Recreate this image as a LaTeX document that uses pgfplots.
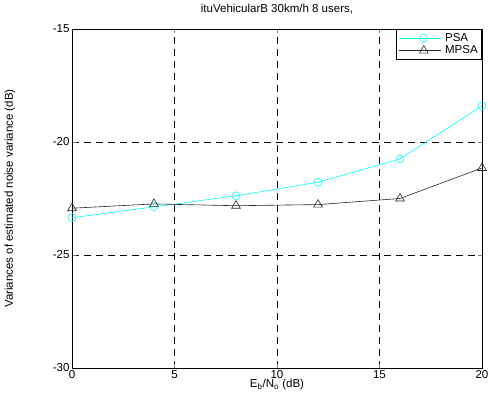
\documentclass[border=0pt]{standalone}
\usepackage{pgfplots}
\pgfplotsset{compat=1.18}
\usepackage{fontspec}
\setmainfont{Liberation Sans}
\definecolor{mcyan}{RGB}{0,255,255}
\begin{document}
\begin{tikzpicture}
\begin{axis}[
  scale only axis,
  width=410pt, height=339pt,
  at={(0pt,0pt)}, anchor=south west,
  xmin=0, xmax=20, ymin=-30, ymax=-15,
  xtick={0,5,10,15,20}, ytick={-30,-25,-20,-15},
  tick align=inside, tick pos=both,
  major tick length=4pt,
  grid=major,
  major grid style={black, dash pattern=on 7pt off 5pt, line width=0.5pt},
  axis line style={black, line width=0.6pt},
  /pgf/number format/assume math mode=true,
  ticklabel style={font=\fontsize{11.5}{13}\selectfont},
  yticklabel style={xshift=1pt},
  xticklabel style={yshift=1pt},
  xlabel={E\textsubscript{b}/N\textsubscript{o} (dB)},
  ylabel={Variances of estimated noise variance (dB)},
  xlabel style={font=\fontsize{11.5}{13}\selectfont, at={([yshift=-17pt]rel axis cs:0.5,0)}, anchor=center},
  ylabel style={font=\fontsize{11.5}{13}\selectfont, at={([xshift=-62pt]rel axis cs:0,0.5)}, anchor=center},
  title={ituVehicularB 30km/h 8 users,},
  title style={font=\fontsize{11.5}{13}\selectfont, at={([yshift=14pt]rel axis cs:0.5,1)}, anchor=center},
  legend cell align=left,
  legend style={at={(rel axis cs:1,1)}, anchor=north east, font=\fontsize{11.5}{13}\selectfont, draw=black, line width=0.6pt, inner xsep=2pt, inner ysep=2pt, row sep=-1pt, column sep=2pt},
  legend image code/.code={\draw[mark repeat=2,mark phase=2,#1] plot coordinates {(0pt,0pt) (25pt,0pt) (42pt,0pt)};},
]
\addplot[mcyan, line width=0.6pt, mark=o, mark size=4pt, mark options={solid}] coordinates {
(0,-23.35) (4,-22.87) (8,-22.38) (12,-21.78) (16,-20.75) (20,-18.4)
};
\addlegendentry{PSA\hspace{6pt}}
\addplot[black!85, line width=0.6pt, mark=triangle, mark size=5pt, mark options={solid}] coordinates {
(0,-22.93) (4,-22.74) (8,-22.82) (12,-22.77) (16,-22.5) (20,-21.15)
};
\addlegendentry{MPSA\hspace{6pt}}
\end{axis}
\pgfresetboundingbox
\useasboundingbox (-72pt,-41pt) rectangle (416pt,368pt);
\end{tikzpicture}
\end{document}
